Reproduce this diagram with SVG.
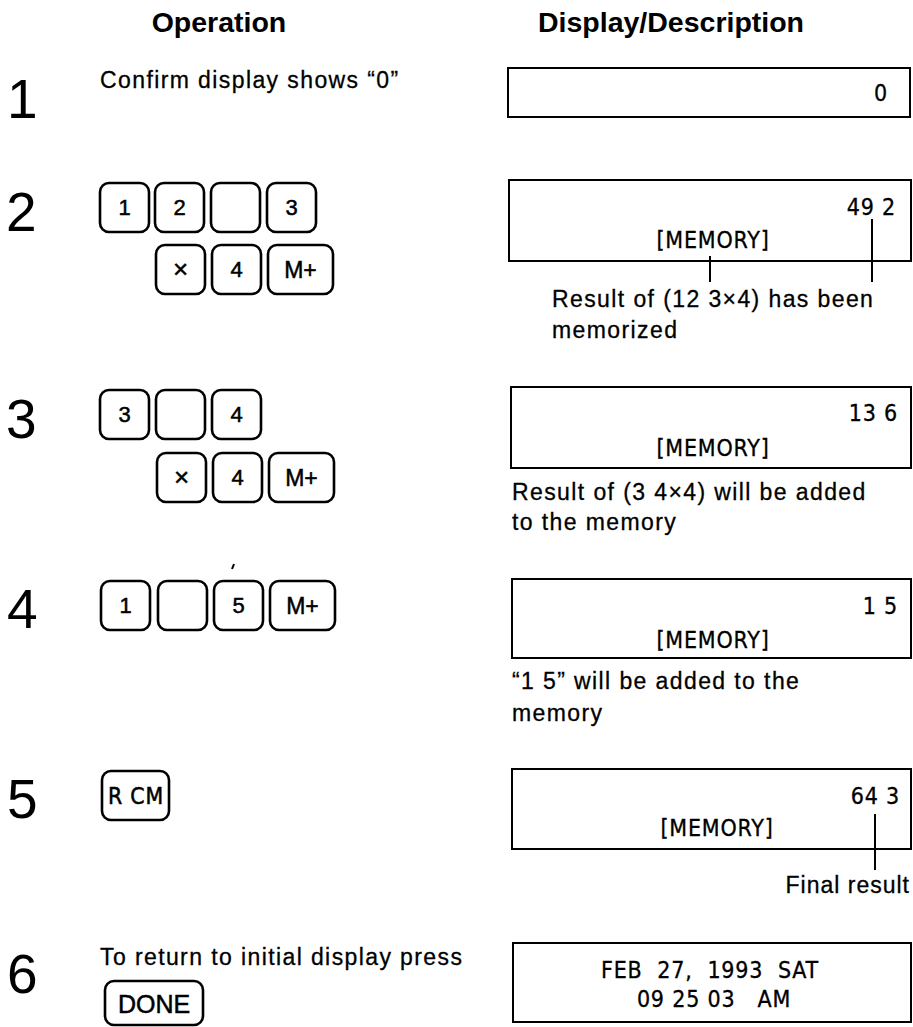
<svg xmlns="http://www.w3.org/2000/svg" width="913" height="1027" viewBox="0 0 913 1027">
<style>
.hdr{font-family:"Liberation Sans",Arial,sans-serif;font-weight:bold;font-size:28.5px;text-anchor:middle;fill:#000}
.num{font-family:"Liberation Sans",Arial,sans-serif;font-size:55px;fill:#000}
.desc{font-family:"Liberation Sans",Arial,sans-serif;font-size:23px;letter-spacing:1.4px;fill:#000;stroke:#000;stroke-width:0.3}
.key{fill:none;stroke:#000;stroke-width:2.6}
.kt{font-family:"Liberation Sans",Arial,sans-serif;font-size:22px;text-anchor:middle;fill:#000;stroke:#000;stroke-width:0.5}
.disp{fill:none;stroke:#000;stroke-width:2}
.dt{font-family:"DejaVu Sans Condensed","DejaVu Sans",sans-serif;font-stretch:condensed;font-size:23px;letter-spacing:0.8px;fill:#000;stroke:#000;stroke-width:0.3;white-space:pre}
.lead{stroke:#000;stroke-width:2;fill:none}
</style>
<defs>
<rect id="k49" width="49" height="49" rx="9" class="key"/>
<rect id="kw" width="65" height="49" rx="9" class="key"/>
</defs>

<text class="hdr" x="219" y="32">Operation</text>
<text class="hdr" x="671" y="32">Display/Description</text>

<g id="step1">
<text class="num" x="7" y="118">1</text>
<text class="desc" x="100" y="88">Confirm display shows “0”</text>
</g>
<g id="display1">
<rect class="disp" x="508" y="68" width="402" height="49"/>
<text class="dt" x="888" y="101" text-anchor="end">0</text>
</g>

<g id="step2">
<text class="num" x="6" y="231">2</text>
<g id="k2-1"><use href="#k49" x="100" y="183"/><text class="kt" x="124.5" y="215">1</text></g>
<g id="k2-2"><use href="#k49" x="155" y="183"/><text class="kt" x="179.5" y="215">2</text></g>
<g id="k2-3"><use href="#k49" x="211" y="183"/></g>
<g id="k2-4"><use href="#k49" x="267" y="183"/><text class="kt" x="291.5" y="215">3</text></g>
<g id="k2-5"><use href="#k49" x="156" y="245"/><text class="kt" x="180.5" y="278" style="font-size:26px">×</text></g>
<g id="k2-6"><use href="#k49" x="212" y="245"/><text class="kt" x="236.5" y="277">4</text></g>
<g id="k2-7"><use href="#kw" x="268" y="245"/><text class="kt" x="300.5" y="278" style="font-size:23px">M+</text></g>
</g>
<g id="display2">
<rect class="disp" x="509" y="180" width="402" height="81"/>
<text class="dt" x="896" y="215" text-anchor="end">49 2</text>
<text class="dt" x="713" y="248" text-anchor="middle">[MEMORY]</text>
<text class="desc" x="552" y="307">Result of (12 3×4) has been</text>
<text class="desc" x="552" y="338">memorized</text>
</g>

<g id="step3">
<text class="num" x="6" y="438">3</text>
<g id="k3-1"><use href="#k49" x="100" y="390"/><text class="kt" x="124.5" y="422">3</text></g>
<g id="k3-2"><use href="#k49" x="156" y="390"/></g>
<g id="k3-3"><use href="#k49" x="212" y="390"/><text class="kt" x="236.5" y="422">4</text></g>
<g id="k3-4"><use href="#k49" x="157" y="453"/><text class="kt" x="181.5" y="486" style="font-size:26px">×</text></g>
<g id="k3-5"><use href="#k49" x="213" y="453"/><text class="kt" x="237.5" y="485">4</text></g>
<g id="k3-6"><use href="#kw" x="269" y="453"/><text class="kt" x="301.5" y="486" style="font-size:23px">M+</text></g>
</g>
<g id="display3">
<rect class="disp" x="511" y="387" width="400" height="81"/>
<text class="dt" x="898" y="421" text-anchor="end">13 6</text>
<text class="dt" x="713" y="456" text-anchor="middle">[MEMORY]</text>
<text class="desc" x="512" y="500">Result of (3 4×4) will be added</text>
<text class="desc" x="512" y="530">to the memory</text>
</g>

<g id="step4">
<text class="num" x="7" y="628">4</text>
<line class="lead" x1="232" y1="569" x2="234" y2="564"/>
<g id="k4-1"><use href="#k49" x="101" y="581"/><text class="kt" x="125.5" y="613">1</text></g>
<g id="k4-2"><use href="#k49" x="158" y="581"/></g>
<g id="k4-3"><use href="#k49" x="214" y="581"/><text class="kt" x="238.5" y="613">5</text></g>
<g id="k4-4"><use href="#kw" x="270" y="581"/><text class="kt" x="302.5" y="614" style="font-size:23px">M+</text></g>
</g>
<g id="display4">
<rect class="disp" x="512" y="579" width="399" height="79"/>
<text class="dt" x="898" y="614" text-anchor="end">1 5</text>
<text class="dt" x="713" y="648" text-anchor="middle">[MEMORY]</text>
<text class="desc" x="512" y="689">“1 5” will be added to the</text>
<text class="desc" x="512" y="721">memory</text>
</g>

<g id="step5">
<text class="num" x="7" y="818">5</text>
<g id="k5-1"><rect class="key" x="102" y="771" width="67" height="49" rx="9"/><text class="dt" x="108" y="804" textLength="56" lengthAdjust="spacingAndGlyphs" style="font-size:23px;stroke-width:0.5">R CM</text></g>
</g>
<g id="display5">
<rect class="disp" x="512" y="769" width="399" height="80"/>
<text class="dt" x="900" y="804" text-anchor="end">64 3</text>
<text class="dt" x="717" y="836" text-anchor="middle">[MEMORY]</text>
<text class="desc" x="910" y="893" text-anchor="end" style="letter-spacing:1px">Final result</text>
</g>

<g id="step6">
<text class="num" x="7" y="993">6</text>
<text class="desc" x="100" y="965">To return to initial display press</text>
<g id="k6-1"><rect class="key" x="105" y="981" width="98" height="44" rx="9"/><text class="kt" x="154" y="1013" style="font-size:25px">DONE</text></g>
</g>
<g id="display6">
<rect class="disp" x="513" y="943" width="398" height="79"/>
<text class="dt" x="710" y="978" text-anchor="middle">FEB  27,  1993  SAT</text>
<text class="dt" x="714" y="1007" text-anchor="middle">09 25 03   AM</text>
</g>

<g id="connectors">
<line class="lead" x1="710" y1="256" x2="710" y2="282"/>
<line class="lead" x1="872" y1="219" x2="872" y2="282"/>
<line class="lead" x1="875" y1="814" x2="875" y2="870"/>
</g>
</svg>
